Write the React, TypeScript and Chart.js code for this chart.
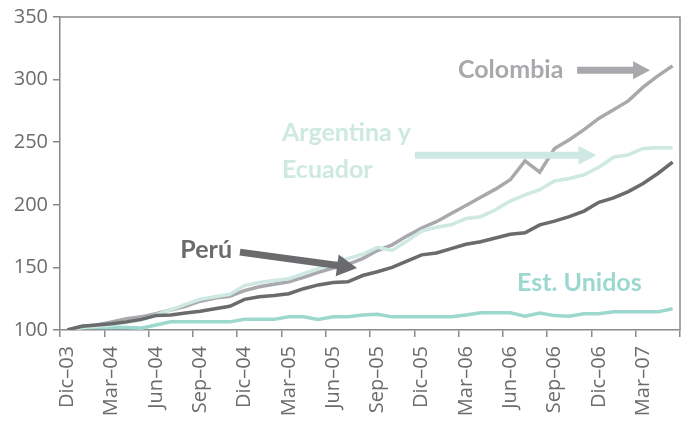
import React, { useEffect, useRef } from 'react';
import { Chart, registerables } from 'chart.js';

Chart.register(...registerables);

const categories = [
  'Dic–03', 'Ene–04', 'Feb–04', 'Mar–04', 'Abr–04', 'May–04', 'Jun–04', 'Jul–04', 'Ago–04', 'Sep–04', 'Oct–04', 'Nov–04',
  'Dic–04', 'Ene–05', 'Feb–05', 'Mar–05', 'Abr–05', 'May–05', 'Jun–05', 'Jul–05', 'Ago–05', 'Sep–05', 'Oct–05', 'Nov–05',
  'Dic–05', 'Ene–06', 'Feb–06', 'Mar–06', 'Abr–06', 'May–06', 'Jun–06', 'Jul–06', 'Ago–06', 'Sep–06', 'Oct–06', 'Nov–06',
  'Dic–06', 'Ene–07', 'Feb–07', 'Mar–07', 'Abr–07', 'May–07',
];

const peru = [
  100, 103, 104, 105, 106.5, 108.5, 111.5, 112, 113.5, 115, 117, 119,
  124.5, 126.5, 127.5, 129, 133, 136, 138, 138.5, 143.5, 146.5, 150, 155,
  160, 161.5, 165, 168.5, 170.5, 173.5, 176.5, 177.7, 184, 187, 190.5, 195,
  202, 205.5, 210.5, 217, 225, 234,
];

const colombia = [
  100, 103, 104, 106.5, 109, 110.5, 113, 116, 119, 123, 125.5, 127,
  131.5, 134.5, 136.5, 138.5, 142, 146, 149.5, 152.5, 157, 163.5, 168, 175,
  181.5, 186.5, 193, 199.5, 206, 212.5, 220, 235, 226, 245, 252, 260,
  269, 276, 283, 294, 303, 311,
];

const argentinaEcuador = [
  100, 102, 103, 104, 106, 108, 112, 116, 120.5, 124.5, 126.5, 128.5,
  135.5, 138, 139.5, 141, 145, 149, 153, 157, 160.5, 166, 163.5, 171,
  179, 182, 184, 189, 190.5, 196, 203, 208, 212, 219, 221, 224,
  230, 238, 240, 245, 245.5, 245.5,
];

const estUnidos = [
  100, 102, 102, 102, 102, 101.5, 104, 106.5, 106.5, 106.5, 106.5, 106.5,
  108.5, 108.5, 108.5, 110.5, 110.5, 108.5, 110.5, 110.5, 112, 112.5, 110.5, 110.5,
  110.5, 110.5, 110.5, 112, 113.8, 113.8, 113.8, 111, 113.5, 111.5, 111, 113,
  113, 114.5, 114.5, 114.5, 114.5, 117,
];

const yTicks = [100, 150, 200, 250, 300, 350];

const C_COL = '#a9a9ad';
const C_ARG = '#cde9e2';
const C_PER = '#6b6b6e';
const C_EEUU = '#9dd8cf';
const C_AXIS = '#8a8a8a';
const C_TEXT = '#6c6c6c';

function drawArrow(ctx: CanvasRenderingContext2D, x1: number, y1: number, x2: number, y2: number,
  color: string, w: number, headLen: number, headW: number) {
  const ang = Math.atan2(y2 - y1, x2 - x1);
  const bx = x2 - headLen * Math.cos(ang);
  const by = y2 - headLen * Math.sin(ang);
  ctx.strokeStyle = color;
  ctx.lineWidth = w;
  ctx.lineCap = 'butt';
  ctx.beginPath();
  ctx.moveTo(x1, y1);
  ctx.lineTo(bx + Math.cos(ang), by + Math.sin(ang));
  ctx.stroke();
  ctx.fillStyle = color;
  ctx.beginPath();
  ctx.moveTo(x2, y2);
  ctx.lineTo(bx + (headW / 2) * Math.sin(ang), by - (headW / 2) * Math.cos(ang));
  ctx.lineTo(bx - (headW / 2) * Math.sin(ang), by + (headW / 2) * Math.cos(ang));
  ctx.closePath();
  ctx.fill();
}

const framePlugin = {
  id: 'frame',
  afterDraw(chart: any) {
    const { ctx, chartArea: a } = chart;
    ctx.save();
    ctx.strokeStyle = C_AXIS;
    ctx.lineWidth = 1.5;
    ctx.beginPath();
    ctx.moveTo(a.left, a.top);
    ctx.lineTo(a.right, a.top);
    ctx.lineTo(a.right, a.bottom);
    ctx.stroke();
    ctx.restore();
  },
};

const annotationPlugin = {
  id: 'annot',
  afterDatasetsDraw(chart: any) {
    const { ctx } = chart;
    const xs = chart.scales.x;
    const ys = chart.scales.y;
    const px = (i: number) => xs.getPixelForValue(i);
    const py = (v: number) => ys.getPixelForValue(v);
    ctx.save();
    ctx.font = 'bold 25px Lato';
    ctx.textBaseline = 'middle';

    ctx.fillStyle = C_COL;
    ctx.textAlign = 'left';
    ctx.fillText('Colombia', px(26.46), py(307.5));
    drawArrow(ctx, px(34.53), py(307.5), px(39.47), py(307.5), C_COL, 7, 17, 18);

    ctx.fillStyle = C_ARG;
    ctx.textAlign = 'left';
    ctx.fillText('Argentina y', px(14.54), py(257.2));
    ctx.fillText('Ecuador', px(14.54), py(227.7));
    drawArrow(ctx, px(23.55), py(239.6), px(35.84), py(239.6), C_ARG, 7, 18, 19);

    ctx.fillStyle = C_PER;
    ctx.textAlign = 'right';
    ctx.fillText('Perú', px(11.15), py(163.8));
    drawArrow(ctx, px(11.69), py(162.2), px(19.62), py(149.5), C_PER, 7, 20, 22);

    ctx.fillStyle = C_EEUU;
    ctx.textAlign = 'left';
    ctx.fillText('Est. Unidos', px(30.46), py(137.5));
    ctx.restore();
  },
};

export default function App() {
  const ref = useRef<HTMLCanvasElement | null>(null);

  useEffect(() => {
    document.body.style.margin = '0';
    const canvas = ref.current;
    if (!canvas) return;
    const mk = (label: string, data: number[], color: string, order: number) => ({
      label,
      data,
      borderColor: color,
      backgroundColor: color,
      borderWidth: 3.5,
      pointRadius: 0,
      tension: 0,
      fill: false,
      order,
    });
    const noPad = (s: any) => {
      s.paddingLeft = 0;
      s.paddingRight = 0;
      s.paddingTop = 0;
      s.paddingBottom = 0;
    };
    const chart = new Chart(canvas, {
      type: 'line',
      data: {
        labels: categories,
        datasets: [
          mk('Perú', peru, C_PER, 0),
          mk('Argentina y Ecuador', argentinaEcuador, C_ARG, 1),
          mk('Colombia', colombia, C_COL, 2),
          mk('Est. Unidos', estUnidos, C_EEUU, 3),
        ],
      },
      options: {
        responsive: false,
        animation: false,
        layout: { padding: { left: 14, top: 17, right: 8, bottom: 0 } },
        plugins: { legend: { display: false }, tooltip: { enabled: false } },
        scales: {
          x: {
            type: 'category',
            offset: true,
            grid: {
              offset: true,
              drawOnChartArea: false,
              drawTicks: true,
              tickLength: 7,
              lineWidth: 1.5,
              color: (c: any) => (c.type !== 'tick' || c.index % 3 === 0 ? C_AXIS : 'rgba(0,0,0,0)'),
            },
            border: { display: true, color: C_AXIS, width: 1.5 },
            ticks: {
              autoSkip: false,
              minRotation: 90,
              maxRotation: 90,
              padding: 9,
              color: C_TEXT,
              font: { family: 'Open Sans', size: 20 },
              callback: (_v: any, i: number) => (i % 3 === 0 ? categories[i] : ''),
            },
            afterFit: (s: any) => { s.height = 94; noPad(s); },
          },
          y: {
            min: yTicks[0],
            max: yTicks[yTicks.length - 1],
            afterBuildTicks: (s: any) => { s.ticks = yTicks.map((v) => ({ value: v })); },
            grid: { drawOnChartArea: false, drawTicks: true, tickLength: 7, lineWidth: 1.5, color: C_AXIS },
            border: { display: true, color: C_AXIS, width: 1.5 },
            ticks: {
              padding: 5,
              color: C_TEXT,
              font: { family: 'Open Sans', size: 20 },
            },
            afterFit: (s: any) => { s.width = 46; noPad(s); },
          },
        },
      },
      plugins: [framePlugin, annotationPlugin],
    } as any);
    return () => chart.destroy();
  }, []);

  return (
    <div style={{ width: 688, height: 424 }}>
      <canvas ref={ref} width={688} height={424} />
    </div>
  );
}
